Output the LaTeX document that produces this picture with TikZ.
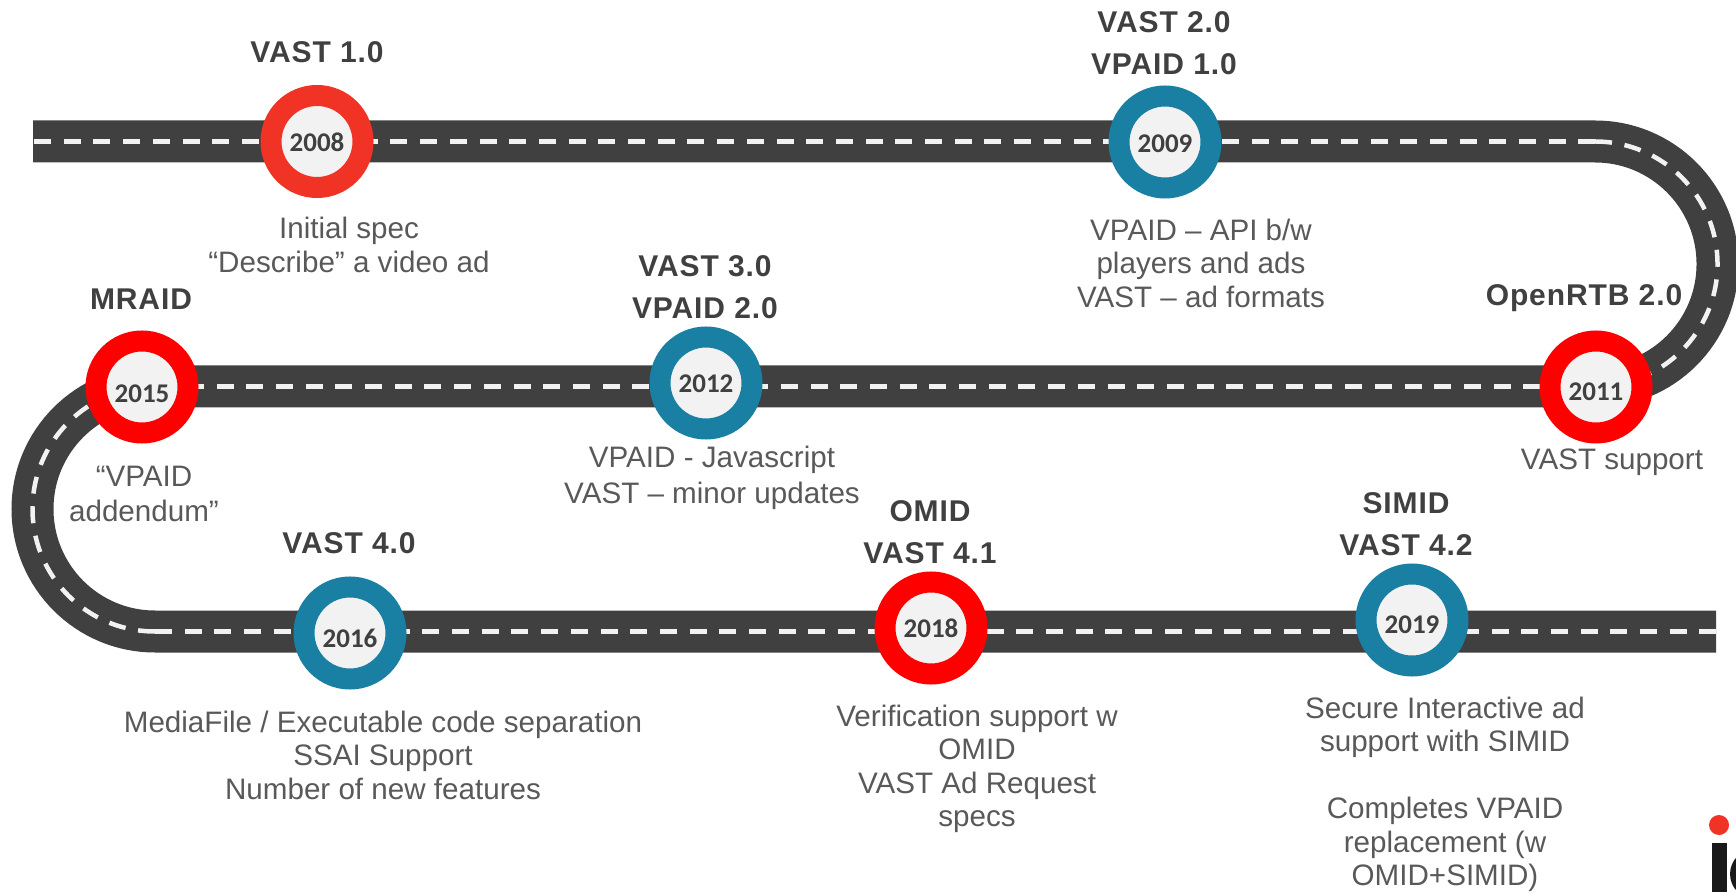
\documentclass[tikz,border=0pt]{standalone}
\usepackage{fontspec}
\setmainfont{Liberation Sans}
\newfontfamily\yearfont{Carlito}
\newfontfamily\headfont{Liberation Sans}[LetterSpace=3]
\definecolor{roadc}{HTML}{404040}
\definecolor{dashc}{HTML}{F2F2F2}
\definecolor{bodyc}{HTML}{595959}
\definecolor{headc}{HTML}{404040}
\definecolor{redA}{HTML}{F03325}
\definecolor{redB}{HTML}{FF0000}
\definecolor{tealc}{HTML}{1A80A3}
\tikzset{
  milestone/.style={circle,draw=#1,line width=21pt,fill=dashc,minimum size=92pt,inner sep=0pt,outer sep=0pt},
  yeartext/.style={inner sep=0pt,text=headc,font=\yearfont\bfseries\fontsize{27}{27}\selectfont},
  headtext/.style={align=center,inner sep=0pt,text=headc,font=\headfont\bfseries\fontsize{30}{42}\selectfont},
  bodytext/.style={align=center,inner sep=0pt,text=bodyc,font=\fontsize{29.6}{34.5}\selectfont},
  tightbody/.style={bodytext,font=\fontsize{29.6}{33.5}\selectfont},
  roadline/.style={roadc,line width=42pt},
  laneline/.style={dashc,line width=4.5pt,dash pattern=on 17pt off 12.7pt},
}
\begin{document}
\begin{tikzpicture}[x=1pt,y=1pt]
\useasboundingbox (0,0) rectangle (1736,892);
\coordinate (roadstart) at (33,750.5);
\coordinate (dashstart) at (34,750.5);
\coordinate (bendA) at (1595,750.5);
\coordinate (bendB) at (155,505.5);
\coordinate (bendBend) at (155,260.5);
\coordinate (roadend) at (1716,260.5);
\coordinate (midstart) at (1570,505.5);
\draw[roadline] (roadstart) -- (bendA) arc[start angle=90,end angle=-90,radius=122.5] -- (bendB) arc[start angle=90,end angle=270,radius=122.5] -- (roadend);
\draw[laneline] (dashstart) -- (bendA);
\draw[laneline] (bendA) arc[start angle=90,end angle=-90,radius=122.5];
\draw[laneline] (midstart) -- (bendB);
\draw[laneline] (bendBend) arc[start angle=270,end angle=90,radius=122.5];
\draw[laneline] (bendBend) -- (roadend);
\node[milestone=redA] (y2008) at (317,750.5) {};
\node[milestone=tealc] (y2009) at (1165,750) {};
\node[milestone=redB] (y2011) at (1596,505) {};
\node[milestone=tealc] (y2012) at (706,509) {};
\node[milestone=redB] (y2015) at (142,505) {};
\node[milestone=tealc] (y2016) at (350,259) {};
\node[milestone=redB] (y2018) at (931,264) {};
\node[milestone=tealc] (y2019) at (1412,272) {};
\node[yeartext] (t2008) at (317,750) {2008};
\node[yeartext] (t2009) at (1165,748) {2009};
\node[yeartext] (t2011) at (1596,500) {2011};
\node[yeartext] (t2012) at (706,508) {2012};
\node[yeartext] (t2015) at (142,498) {2015};
\node[yeartext] (t2016) at (350,254) {2016};
\node[yeartext] (t2018) at (931,264) {2018};
\node[yeartext] (t2019) at (1412,267) {2019};
\node[headtext] (h1) at (317,840) {VAST 1.0};
\node[headtext] (h2) at (1164,849) {VAST 2.0\\VPAID 1.0};
\node[headtext] (h3) at (1584,594) {OpenRTB 2.0};
\node[headtext] (h4) at (705,605) {VAST 3.0\\VPAID 2.0};
\node[headtext] (h5) at (141,593) {MRAID};
\node[headtext] (h6) at (349,349) {VAST 4.0};
\node[headtext] (h7) at (930,360) {OMID\\VAST 4.1};
\node[headtext] (h8) at (1406,368) {SIMID\\VAST 4.2};
\node[bodytext] (b1) at (349,647) {Initial spec\\“Describe” a video ad};
\node[tightbody] (b2) at (1201,629) {VPAID – API b/w\\players and ads\\VAST – ad formats};
\node[bodytext] (b3) at (712,414) {VPAID - Javascript\\[2pt]VAST – minor updates};
\node[bodytext] (b4) at (144,398) {“VPAID\\addendum”};
\node[bodytext] (b5) at (1612,430) {VAST support};
\node[tightbody] (b6) at (383,137) {MediaFile / Executable code separation\\SSAI Support\\Number of new features};
\node[tightbody] (b7) at (977,123) {Verification support w\\OMID\\VAST Ad Request\\specs};
\node[tightbody] (b8) at (1445,97.5) {Secure Interactive ad\\support with SIMID\\[0pt]\strut\\Completes VPAID\\replacement (w\\OMID+SIMID)};
% logo fragment
\fill[redA] (1719,67) circle (10);
\fill[black!90] (1711.5,0) rectangle (1726.5,49);
\begin{scope}
\clip (1729,0) rectangle (1736,50);
\fill[black!90] (1755,18) circle (25);
\end{scope}
\end{tikzpicture}
\end{document}
